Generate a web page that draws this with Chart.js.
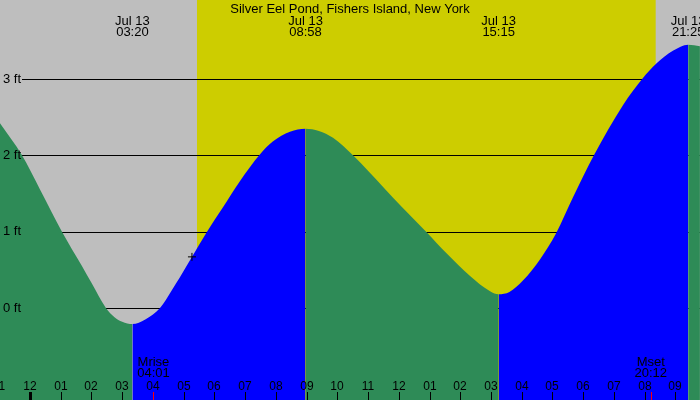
<!DOCTYPE html>
<html>
<head>
<meta charset="utf-8">
<title>Silver Eel Pond tide</title>
<script src="https://cdn.jsdelivr.net/npm/chart.js"></script>
<style>
  body { margin: 0; background: #fff; }
  canvas { display: block; }
</style>
</head>
<body>
<canvas id="tideChart" width="700" height="400"></canvas>

<script>
// ---- data (hours from midnight, feet) ----
const tideHours = [-0.976, -0.26, 0.33, 1.04, 1.69, 2.0, 2.47, 2.75, 3.0, 3.333,
                   3.75, 4.23, 4.75, 5.21, 5.76, 6.28, 6.83, 7.48, 7.9, 8.46, 8.967,
                   9.4, 9.86, 10.51, 11.55, 12.11, 12.89, 13.57, 14.32, 14.97, 15.25,
                   15.6, 16.04, 16.6, 17.12, 17.67, 18.35, 19.3, 19.92, 20.4, 20.92, 21.417, 21.8];
const tideFeet  = [2.42, 2.0, 1.55, 1.0, 0.55, 0.33, 0.0, -0.12, -0.18, -0.21,
                   -0.15, 0.0, 0.32, 0.63, 1.0, 1.32, 1.66, 2.01, 2.18, 2.31, 2.35,
                   2.32, 2.23, 2.0, 1.56, 1.32, 1.0, 0.71, 0.42, 0.22, 0.18,
                   0.21, 0.36, 0.64, 0.98, 1.45, 2.0, 2.66, 3.0, 3.21, 3.37, 3.45, 3.43];

const extremeHours  = [3.333, 8.967, 15.25, 21.417];
const extremeDates  = ['Jul 13', 'Jul 13', 'Jul 13', 'Jul 13'];
const extremeTimes  = ['03:20', '08:58', '15:15', '21:25'];

const tickHours  = [-1, 0, 1, 2, 3, 4, 5, 6, 7, 8, 9, 10, 11, 12, 13, 14, 15, 16, 17, 18, 19, 20, 21];
const tickLabels = ['11', '12', '01', '02', '03', '04', '05', '06', '07', '08', '09', '10',
                    '11', '12', '01', '02', '03', '04', '05', '06', '07', '08', '09'];

const footTicks  = [0, 1, 2, 3];
const footLabels = ['0 ft', '1 ft', '2 ft', '3 ft'];

const sunrise = 5.434;
const sunset = 20.36;

const moonHours  = [4.017, 20.2];
const moonNames  = ['Mrise', 'Mset'];
const moonTimes  = ['04:01', '20:12'];

const nowHour = 5.27;
const nowFeet = 0.67;

const title = 'Silver Eel Pond, Fishers Island, New York';

// colours
const nightColor = '#bebebe';
const dayColor = '#cdcd00';
const risingColor = '#0000ff';
const fallingColor = '#2e8b57';
const FONT = '13px "Liberation Sans", Arial, sans-serif';
const SMALL_FONT = '12px "Liberation Sans", Arial, sans-serif';

// background bands, grid lines, and all the text
const tideDecor = {
    id: 'tideDecor',
    beforeDatasetsDraw(chart) {
        const ctx = chart.ctx, xs = chart.scales.x, ys = chart.scales.y, a = chart.chartArea;
        ctx.save();
        ctx.fillStyle = nightColor;
        ctx.fillRect(a.left, a.top, a.right - a.left, a.bottom - a.top);
        const x1 = xs.getPixelForValue(sunrise), x2 = xs.getPixelForValue(sunset);
        ctx.fillStyle = dayColor;
        ctx.fillRect(x1, a.top, x2 - x1, a.bottom - a.top);

        ctx.strokeStyle = '#000';
        ctx.lineWidth = 1;
        footTicks.forEach(v => {
            const y = Math.round(ys.getPixelForValue(v)) + 0.5;
            ctx.beginPath();
            ctx.moveTo(22, y);
            ctx.lineTo(a.right, y);
            ctx.stroke();
        });
        ctx.restore();
    },
    afterDatasetsDraw(chart) {
        const ctx = chart.ctx, xs = chart.scales.x, ys = chart.scales.y, a = chart.chartArea;
        ctx.save();
        ctx.fillStyle = '#000';
        ctx.font = FONT;

        // foot labels on the left
        ctx.textAlign = 'left';
        ctx.textBaseline = 'middle';
        footTicks.forEach((v, i) => ctx.fillText(footLabels[i], 3, ys.getPixelForValue(v)));

        // title and high/low times
        ctx.textAlign = 'center';
        ctx.textBaseline = 'alphabetic';
        ctx.fillText(title, (a.left + a.right) / 2, 13);
        extremeHours.forEach((h, i) => {
            const x = xs.getPixelForValue(h);
            ctx.fillText(extremeDates[i], x, 25);
            ctx.fillText(extremeTimes[i], x, 36);
        });

        // moon rise / set
        moonHours.forEach((h, i) => {
            const x = xs.getPixelForValue(h);
            ctx.fillText(moonNames[i], x, 366);
            ctx.fillText(moonTimes[i], x, 377);
        });

        // hour ticks along the bottom
        ctx.font = SMALL_FONT;
        tickHours.forEach((h, i) => {
            const x = Math.round(xs.getPixelForValue(h));
            ctx.fillText(tickLabels[i], x, 390);
            ctx.fillRect(h === 0 ? x - 1 : x, 392, h === 0 ? 3 : 1, 8);
        });
        ctx.fillStyle = '#ff0000';
        moonHours.forEach(h => {
            const x = Math.round(xs.getPixelForValue(h));
            ctx.fillRect(x, 392, 1, 8);
        });
        ctx.restore();
    }
};

const tidePoints = tideHours.map((h, i) => ({ x: h, y: tideFeet[i] }));

new Chart(document.getElementById('tideChart'), {
    type: 'line',
    data: {
        datasets: [{
            data: [{ x: nowHour, y: nowFeet }],
            showLine: false,
            pointStyle: 'cross',
            pointRadius: 4,
            pointBorderColor: '#000',
            pointBorderWidth: 1,
            order: 0
        }, {
            data: tidePoints,
            fill: 'start',
            borderWidth: 0,
            borderColor: 'rgba(0,0,0,0)',
            backgroundColor: fallingColor,
            pointRadius: 0,
            cubicInterpolationMode: 'monotone',
            segment: {
                backgroundColor: c => c.p1.parsed.y > c.p0.parsed.y ? risingColor : fallingColor
            },
            order: 1
        }]
    },
    plugins: [tideDecor],
    options: {
        responsive: false,
        animation: false,
        devicePixelRatio: 1,
        layout: { padding: 0, autoPadding: false },
        scales: {
            x: { type: 'linear', display: false, min: -0.976, max: 21.802 },
            y: { type: 'linear', display: false, min: -1.205, max: 4.035 }
        },
        plugins: {
            legend: { display: false },
            tooltip: { enabled: false }
        }
    }
});
</script>
</body>
</html>
